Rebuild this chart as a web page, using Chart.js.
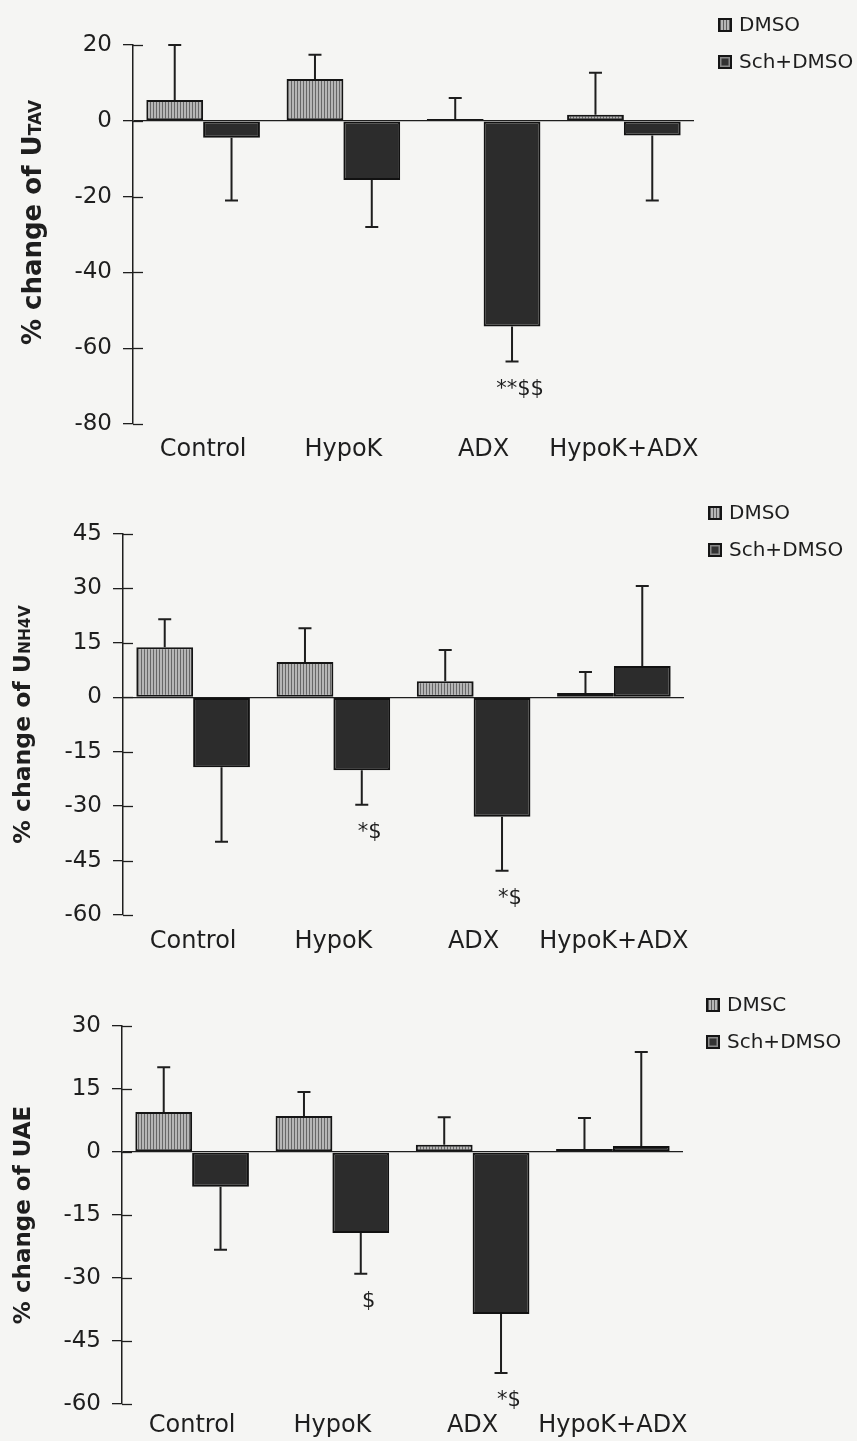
<!DOCTYPE html>
<html>
<head>
<meta charset="utf-8">
<script src="https://cdn.jsdelivr.net/npm/chart.js@4.4.0/dist/chart.umd.min.js"></script>
<style>
html,body{margin:0;padding:0;background:#f5f5f3;}
body{width:857px;height:1441px;position:relative;overflow:hidden;font-family:"DejaVu Sans",sans-serif;}
canvas{position:absolute;left:0;}
.leg{position:absolute;color:#1e1e1e;font-size:20px;line-height:21px;white-space:nowrap;}
.row{position:absolute;left:0;display:flex;align-items:center;height:21px;}
.box{width:10px;height:10px;border:2px solid #151515;margin-right:7px;box-sizing:content-box;}
.b0{background:repeating-linear-gradient(90deg,#5e5e5e 0 1px,#b8b8b8 1px 3px);}
.b1{background:#333;box-shadow:inset 0 0 0 1.5px #8a8a8a;}
</style>
</head>
<body>
<canvas id="c1" width="857" height="470" style="top:0px"></canvas>
<canvas id="c2" width="857" height="490" style="top:470px"></canvas>
<canvas id="c3" width="857" height="481" style="top:960px"></canvas>

<div class="leg" style="left:718px;top:14px">
  <div class="row" style="top:0"><span class="box b0"></span><span>DMSO</span></div>
  <div class="row" style="top:37px"><span class="box b1"></span><span>Sch+DMSO</span></div>
</div>
<div class="leg" style="left:708px;top:502px">
  <div class="row" style="top:0"><span class="box b0"></span><span>DMSO</span></div>
  <div class="row" style="top:37px"><span class="box b1"></span><span>Sch+DMSO</span></div>
</div>
<div class="leg" style="left:706px;top:994px">
  <div class="row" style="top:0"><span class="box b0"></span><span>DMSC</span></div>
  <div class="row" style="top:37px"><span class="box b1"></span><span>Sch+DMSO</span></div>
</div>

<script>
// ---------- data ----------
const categories = ['Control', 'HypoK', 'ADX', 'HypoK+ADX'];
const seriesNames = ['DMSO', 'Sch+DMSO'];

// Panel 1: % change of UTAV
const utavDMSO    = [5.5, 11.0, 0.5, 1.6];
const utavDMSOErr = [14.5, 6.4, 5.5, 11.1];
const utavSch     = [-4.5, -15.6, -54.3, -3.9];
const utavSchErr  = [16.5, 12.4, 9.2, 17.1];
const utavTicks   = [-80, -60, -40, -20, 0, 20];
const utavNotes   = ['', '', '**$$', ''];

// Panel 2: % change of UNH4V
const unh4vDMSO    = [13.8, 9.7, 4.4, 1.2];
const unh4vDMSOErr = [7.7, 9.3, 8.6, 5.8];
const unh4vSch     = [-19.3, -20.1, -32.9, 8.6];
const unh4vSchErr  = [20.5, 9.5, 14.9, 22.1];
const unh4vTicks   = [-60, -45, -30, -15, 0, 15, 30, 45];
const unh4vNotes   = ['', '*$', '*$', ''];

// Panel 3: % change of UAE
const uaeDMSO    = [9.5, 8.6, 1.7, 0.7];
const uaeDMSOErr = [10.7, 5.7, 6.6, 7.4];
const uaeSch     = [-8.3, -19.3, -38.6, 1.4];
const uaeSchErr  = [15.0, 9.7, 14.0, 22.4];
const uaeTicks   = [-60, -45, -30, -15, 0, 15, 30];
const uaeNotes   = ['', '$', '*$', ''];

// ---------- drawing ----------
const FAMILY = '"DejaVu Sans", sans-serif';
const INK = '#1e1e1e';

function makePattern(ctx) {
  const c = document.createElement('canvas');
  c.width = 3; c.height = 4;
  const g = c.getContext('2d');
  g.fillStyle = '#b6b6b6'; g.fillRect(0, 0, 3, 4);
  g.fillStyle = '#676767'; g.fillRect(0, 0, 1, 4);
  return ctx.createPattern(c, 'repeat');
}

const errorBars = {
  id: 'errorBars',
  afterDatasetsDraw(chart) {
    const c = chart.ctx, y = chart.scales.y;
    c.save();
    c.strokeStyle = INK; c.lineWidth = 2;
    chart.data.datasets.forEach((ds, i) => {
      const meta = chart.getDatasetMeta(i);
      meta.data.forEach((bar, j) => {
        const v = ds.data[j], e = ds.err[j];
        const end = v >= 0 ? v + e : v - e;
        const y1 = y.getPixelForValue(v), y2 = y.getPixelForValue(end);
        c.beginPath();
        c.moveTo(bar.x, y1); c.lineTo(bar.x, y2);
        c.moveTo(bar.x - 6.5, y2); c.lineTo(bar.x + 6.5, y2);
        c.stroke();
      });
    });
    c.restore();
  }
};

const innerTicks = {
  id: 'innerTicks',
  afterDraw(chart) {
    const c = chart.ctx, y = chart.scales.y;
    c.save();
    c.strokeStyle = INK; c.lineWidth = 1.3;
    y.ticks.forEach(t => {
      const py = Math.round(y.getPixelForValue(t.value)) + 0.5;
      c.beginPath(); c.moveTo(y.right, py); c.lineTo(y.right + 10, py); c.stroke();
    });
    c.restore();
  }
};

const mixTitle = {
  id: 'mixTitle',
  afterDraw(chart, args, opts) {
    const c = chart.ctx;
    c.save();
    let total = 0;
    const parts = opts.parts.map(p => {
      c.font = 'bold ' + p.size + 'px ' + FAMILY;
      const w = c.measureText(p.text).width;
      total += w;
      return { text: p.text, size: p.size, w };
    });
    const a = chart.chartArea;
    c.translate(opts.x, (a.top + a.bottom) / 2 + opts.dy);
    c.rotate(-Math.PI / 2);
    c.fillStyle = INK;
    c.textBaseline = 'alphabetic';
    let x = -total / 2;
    const base = opts.base;
    parts.forEach(p => {
      c.font = 'bold ' + p.size + 'px ' + FAMILY;
      c.fillText(p.text, x, base);
      x += p.w;
    });
    c.restore();
  }
};

const notes = {
  id: 'notes',
  afterDatasetsDraw(chart, args, opts) {
    const c = chart.ctx, y = chart.scales.y;
    const ds = chart.data.datasets[1];
    const meta = chart.getDatasetMeta(1);
    c.save();
    c.fillStyle = INK;
    c.font = '21px ' + FAMILY;
    c.textAlign = 'center';
    c.textBaseline = 'middle';
    opts.texts.forEach((t, j) => {
      if (!t) return;
      const v = ds.data[j], e = ds.err[j];
      const end = v >= 0 ? v + e : v - e;
      const py = y.getPixelForValue(end) + (v >= 0 ? -28 : 28);
      c.fillText(t, meta.data[j].x + 8, py);
    });
    c.restore();
  }
};

function buildPanel(p) {
  const canvas = document.getElementById(p.id);
  const ctx = canvas.getContext('2d');
  const pat = makePattern(ctx);
  const lo = p.ticks[0], hi = p.ticks[p.ticks.length - 1];
  new Chart(ctx, {
    type: 'bar',
    data: {
      labels: categories,
      datasets: [
        { label: seriesNames[0], data: p.dmso, err: p.dmsoErr, backgroundColor: pat,
          borderColor: '#151515', borderWidth: 2, borderSkipped: false },
        { label: seriesNames[1], data: p.sch, err: p.schErr, backgroundColor: '#2c2c2c',
          borderColor: '#111', borderWidth: 2, borderSkipped: false }
      ]
    },
    options: {
      responsive: false, animation: false, devicePixelRatio: 1,
      layout: { padding: { left: 0, top: p.area.top, right: 857 - p.area.right, bottom: 0 } },
      datasets: { bar: { categoryPercentage: 0.81, barPercentage: 1 } },
      plugins: {
        legend: { display: false }, tooltip: { enabled: false },
        mixTitle: { parts: p.title, x: p.titleX, dy: p.titleDy, base: 8 },
        notes: { texts: p.notes }
      },
      scales: {
        x: {
          grid: { display: false, drawTicks: false }, border: { display: false },
          ticks: { font: { family: FAMILY, size: 24 }, color: INK, padding: p.xPad, maxRotation: 0, autoSkip: false },
          afterFit: s => { s.height = p.height - p.area.bottom; }
        },
        y: {
          min: lo, max: hi,
          afterBuildTicks: s => { s.ticks = p.ticks.map(v => ({ value: v })); },
          grid: {
            color: c => (c.tick && c.tick.value === 0) ? INK : 'rgba(0,0,0,0)',
            lineWidth: 1.3, tickColor: INK, tickLength: 10, drawTicks: true
          },
          border: { display: true, color: INK, width: 1.5 },
          ticks: { font: { family: FAMILY, size: 23 }, color: INK, padding: 11 },
          afterFit: s => { s.width = p.area.left; }
        }
      }
    },
    plugins: [errorBars, innerTicks, mixTitle, notes]
  });
}

buildPanel({ id: 'c1', height: 470, area: { left: 133, right: 694, top: 45, bottom: 424 },
  dmso: utavDMSO, dmsoErr: utavDMSOErr, sch: utavSch, schErr: utavSchErr, ticks: utavTicks, notes: utavNotes,
  title: [{ text: '% change of U', size: 26 }, { text: 'TAV', size: 17 }], titleX: 33, titleDy: -12, xPad: 11 });

buildPanel({ id: 'c2', height: 490, area: { left: 123, right: 684, top: 64, bottom: 445 },
  dmso: unh4vDMSO, dmsoErr: unh4vDMSOErr, sch: unh4vSch, schErr: unh4vSchErr, ticks: unh4vTicks, notes: unh4vNotes,
  title: [{ text: '% change of U', size: 23.5 }, { text: 'NH4V', size: 15.5 }], titleX: 22, titleDy: 0, xPad: 12 });

buildPanel({ id: 'c3', height: 481, area: { left: 122, right: 683, top: 66, bottom: 444 },
  dmso: uaeDMSO, dmsoErr: uaeDMSOErr, sch: uaeSch, schErr: uaeSchErr, ticks: uaeTicks, notes: uaeNotes,
  title: [{ text: '% change of UAE', size: 23 }], titleX: 22, titleDy: 0, xPad: 7 });
</script>
</body>
</html>
